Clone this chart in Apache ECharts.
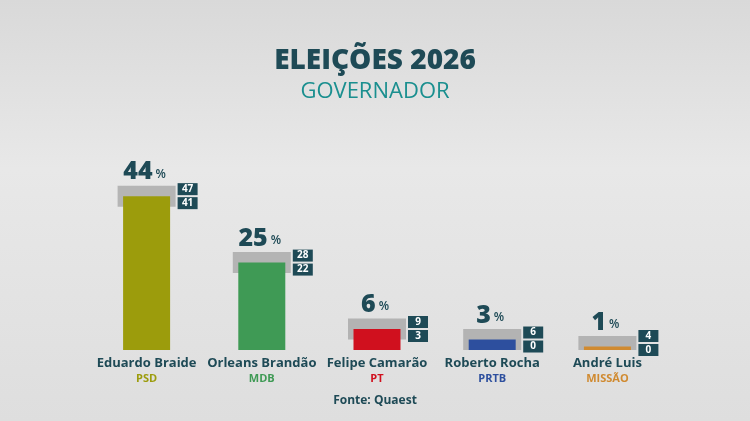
<!DOCTYPE html>
<html><head><meta charset="utf-8">
<script src="https://cdn.jsdelivr.net/npm/echarts@6/dist/echarts.min.js"></script>
<style>html,body{margin:0;padding:0;}#c{width:750px;height:421px;background:linear-gradient(#d9d9d9,#e8e8e8 40%,#dedede);}</style>
</head><body><div id="c"></div>
<script>
const names = ['Eduardo Braide','Orleans Brandão','Felipe Camarão','Roberto Rocha','André Luis'];
const parties = ['PSD','MDB','PT','PRTB','MISSÃO'];
const values = [44,25,6,3,1];
const highs = [47,28,9,6,4];
const lows = [41,22,3,0,0];
const colors = ['#9c9c0c','#3f9a55','#d0101e','#2d4f9e','#d08a30'];
const dark = '#1e4a56';

const chart = echarts.init(document.getElementById('c'));
chart.setOption({
  animation:false,
  title:[
    {text:'ELEIÇÕES 2026',left:'center',top:42,textStyle:{fontFamily:'Open Sans',fontWeight:800,fontSize:28,color:dark}},
    {text:'GOVERNADOR',left:'center',top:76,textStyle:{fontFamily:'Open Sans',fontWeight:400,fontSize:22,color:'#1a8f8f'}},
    {text:'Fonte: Quaest',left:'center',top:390,textStyle:{fontFamily:'Open Sans',fontWeight:700,fontSize:12,color:dark}}
  ],
  grid:{left:89,right:85,top:100,bottom:71},
  xAxis:{type:'category',data:names,axisLine:{show:false},axisTick:{show:false},
    axisLabel:{interval:0,margin:5,formatter:(v,i)=>'{n|'+v+'}\n{p'+i+'|'+parties[i]+'}',
      rich:Object.assign({n:{fontFamily:'Open Sans',fontWeight:700,fontSize:13,color:dark,lineHeight:17}},
        ...parties.map((p,i)=>({['p'+i]:{fontFamily:'Open Sans',fontWeight:700,fontSize:11,color:colors[i],lineHeight:14}})))}},
  yAxis:{type:'value',min:0,max:71.5,show:false},
  series:[
    {type:'bar',data:values.map((v,i)=>({value:v,itemStyle:{color:colors[i]}})),barWidth:47},
    {type:'custom',data:values.map((v,i)=>[i,highs[i],lows[i],v]),renderItem:(params,api)=>{
      const i=api.value(0);
      const top=api.coord([i,api.value(1)]);
      const bot=api.coord([i,api.value(2)]);
      const x=top[0], h=bot[1]-top[1], mid=(top[1]+bot[1])/2;
      return {type:'group',children:[
        {type:'rect',shape:{x:x-29,y:top[1],width:58,height:h},style:{fill:'rgba(160,160,160,0.7)'}},
        {type:'text',style:{x:x-2,y:top[1]-1,text:'{v|'+api.value(3)+'}{s|%}',align:'center',verticalAlign:'bottom',
          rich:{v:{fontFamily:'Open Sans',fontWeight:800,fontSize:25,fill:dark},s:{fontFamily:'Open Sans',fontWeight:600,fontSize:12,fill:dark,padding:[4,0,0,3]}}}},
        {type:'rect',shape:{x:x+31,y:mid-13,width:20,height:12},style:{fill:dark}},
        {type:'rect',shape:{x:x+31,y:mid+1,width:20,height:12},style:{fill:dark}},
        {type:'text',style:{x:x+41,y:mid-7,text:String(highs[i]),align:'center',verticalAlign:'middle',fill:'#fff',font:'700 10px Open Sans'}},
        {type:'text',style:{x:x+41,y:mid+7,text:String(lows[i]),align:'center',verticalAlign:'middle',fill:'#fff',font:'700 10px Open Sans'}}
      ]};
    }}
  ]
});
</script></body></html>
